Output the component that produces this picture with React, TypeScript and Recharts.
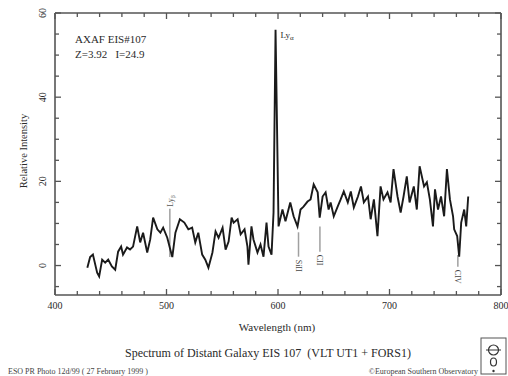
import { ComposedChart, Line, XAxis, YAxis, ReferenceLine, ReferenceDot } from 'recharts';

// spectrum: wavelength (nm) / relative intensity
const waves = [
  429, 431.5, 434, 437.8, 439.6, 442.3, 445, 447.7, 451, 454,
  456.6, 459.3, 461, 464.6, 467.3, 470, 473.7, 476.4, 479, 482.7,
  485.4, 488, 491.8, 494.5, 497, 500.7, 503.4, 505.2, 508, 512,
  516, 519.6, 523, 525.8, 528.5, 532, 534.8, 537.6, 541.2, 544,
  546.7, 550.3, 553, 555.7, 558.4, 560.2, 563.8, 566.5, 570, 572.6,
  573.5, 576.2, 578, 581.6, 584.3, 587, 589.7, 591.5, 594.2, 596,
  597.8, 600.5, 604, 606.7, 611, 614, 617.5, 620.2, 622.9, 626.5,
  629.2, 632, 635.6, 637.4, 640, 642.7, 645.4, 647.2, 650, 653.5,
  656.2, 659, 662.6, 665.3, 668, 671.7, 674.4, 677, 680.7, 683.1,
  686, 689.2, 692, 694.6, 698.2, 701, 703.6, 707.2, 710, 712.6,
  715.5, 718, 721.8, 724.5, 727, 731, 733.5, 736.2, 739, 740.8,
  743.5, 746.2, 749, 751.5, 754.2, 757, 758, 760.7, 762.5, 764.3,
  767, 768.8, 770.6,
];
const intensity = [
  -0.5, 2, 2.6, -1.7, -2.6, 1.4, 0.7, 1.4, -0.2, -1,
  3.3, 4.5, 2.6, 4.3, 3.8, 4.5, 9.3, 5.5, 7.8, 3.1,
  6.2, 11.4, 8.6, 7.8, 9, 6.6, 3.8, 2, 7.8, 11,
  10.2, 8.6, 9, 5.5, 7.8, 2.6, 1.4, -0.5, 3.1, 8.1,
  6.6, 9, 3.8, 5.7, 11.4, 10.2, 11, 7.4, 8.6, 4.5,
  0.2, 9.3, 6.2, 3.1, 5, 2.1, 10.2, 4.5, 2.6, 12.6,
  56, 9.3, 13.3, 10.5, 15, 11.7, 9.3, 13.3, 14, 15.2,
  15.7, 19.3, 17.4, 11.4, 16.4, 17.4, 13.3, 15, 11.7, 14,
  15.7, 17.6, 15, 17.6, 13.8, 16.4, 18.8, 15, 16.4, 11,
  15.7, 7, 18.8, 15.7, 17.4, 15, 22.9, 16.4, 12.6, 16.4,
  21.2, 15, 18.8, 13.3, 23.6, 18.8, 19.8, 15.7, 9.3, 18.1,
  13.3, 16.4, 11.7, 22.9, 15.7, 11.7, 8.6, 7, 2.1, 10.2,
  13.3, 9.3, 16.4,
];

const xTicks = [400, 420, 440, 460, 480, 500, 520, 540, 560, 580, 600, 620, 640, 660, 680, 700, 720, 740, 760, 780, 800];
const yTicks = [-5, 0, 5, 10, 15, 20, 25, 30, 35, 40, 45, 50, 55, 60];

// absorption / emission line markers
const lineNames = ['SiII', 'CII', 'CIV'];
const lineWaves = [618.4, 637.6, 761.3];
const lineTops = [7.9, 9.3, 2.5];
const lineBottoms = [2.1, 3.3, -0.3];

const data = waves.map((w, i) => ({ w, v: intensity[i] }));

const FONT = '"Liberation Serif", "DejaVu Serif", serif';
const AXIS = '#555';
const INK = '#2a2a2a';

const BottomTick = ({ x, y, payload }: any) => {
  const major = payload.value % 100 === 0;
  return (
    <g>
      <line x1={x} x2={x} y1={y} y2={y - (major ? 6 : 4)} stroke={AXIS} strokeWidth={1.3} />
      {major && (
        <text x={x} y={y + 14} textAnchor="middle" fontSize={10} fontFamily={FONT} fill={INK}>
          {payload.value}
        </text>
      )}
    </g>
  );
};

const TopTick = ({ x, y, payload }: any) => {
  const major = payload.value % 100 === 0;
  return <line x1={x} x2={x} y1={y} y2={y + (major ? 6 : 4)} stroke={AXIS} strokeWidth={1.3} />;
};

const LeftTick = ({ x, y, payload }: any) => {
  const major = payload.value % 20 === 0;
  return (
    <g>
      <line x1={x} x2={x + (major ? 6 : 4)} y1={y} y2={y} stroke={AXIS} strokeWidth={1.3} />
      {major && (
        <text
          x={x - 9}
          y={y}
          transform={`rotate(-90, ${x - 9}, ${y})`}
          textAnchor="middle"
          fontSize={10}
          fontFamily={FONT}
          fill={INK}
        >
          {payload.value}
        </text>
      )}
    </g>
  );
};

const RightTick = ({ x, y, payload }: any) => {
  const major = payload.value % 20 === 0;
  return <line x1={x} x2={x - (major ? 6 : 4)} y1={y} y2={y} stroke={AXIS} strokeWidth={1.3} />;
};

const LyaLabel = ({ cx, cy }: any) => (
  <text x={cx + 5} y={cy + 8} fontSize={9} fontFamily={FONT} fill={INK}>
    Ly<tspan fontSize={7} dy={2}>α</tspan>
  </text>
);

const LybLabel = ({ cx, cy }: any) => (
  <text
    x={cx + 3}
    y={cy - 2}
    transform={`rotate(-90, ${cx + 3}, ${cy - 2})`}
    fontSize={8}
    fontFamily={FONT}
    fill="#555"
  >
    Ly<tspan fontSize={6} dy={2}>β</tspan>
  </text>
);

const makeLineLabel = (name: string) => ({ cx, cy }: any) => (
  <text
    x={cx - 3}
    y={cy + 3}
    transform={`rotate(90, ${cx - 3}, ${cy + 3})`}
    fontSize={8}
    fontFamily={FONT}
    fill="#444"
  >
    {name}
  </text>
);

export default function App() {
  return (
    <div style={{ position: 'absolute', left: 0, top: 0, width: 508, height: 376, background: '#fff' }}>
      <ComposedChart width={508} height={376} data={data} margin={{ top: 12, right: 0, bottom: 0, left: 0 }}>
        <XAxis
          dataKey="w"
          type="number"
          domain={[400, 800]}
          ticks={xTicks}
          interval={0}
          height={81}
          tickSize={0}
          tickMargin={0}
          tickLine={false}
          tick={<BottomTick />}
          axisLine={{ stroke: AXIS, strokeWidth: 1.6 }}
        />
        <XAxis
          xAxisId="top"
          dataKey="w"
          orientation="top"
          type="number"
          domain={[400, 800]}
          ticks={xTicks}
          interval={0}
          height={1}
          tickSize={0}
          tickMargin={0}
          tickLine={false}
          tick={<TopTick />}
          axisLine={{ stroke: AXIS, strokeWidth: 1.6 }}
        />
        <YAxis
          type="number"
          domain={[-7, 60]}
          ticks={yTicks}
          interval={0}
          width={55}
          tickSize={0}
          tickMargin={0}
          tickLine={false}
          tick={<LeftTick />}
          axisLine={{ stroke: AXIS, strokeWidth: 1.6 }}
        />
        <YAxis
          yAxisId="right"
          orientation="right"
          type="number"
          domain={[-7, 60]}
          ticks={yTicks}
          interval={0}
          width={7}
          tickSize={0}
          tickMargin={0}
          tickLine={false}
          tick={<RightTick />}
          axisLine={{ stroke: AXIS, strokeWidth: 1.6 }}
        />

        {/* invisible copy so the top / right frame axes get drawn */}
        <Line
          xAxisId="top"
          yAxisId="right"
          dataKey="v"
          stroke="none"
          dot={false}
          activeDot={false}
          legendType="none"
          isAnimationActive={false}
        />

        {/* Ly beta marker */}
        <ReferenceLine segment={[{ x: 503, y: 13.5 }, { x: 503, y: 2 }]} stroke="#a0a0a0" strokeWidth={1.5} />
        <ReferenceDot x={503} y={13.5} r={0} shape={<LybLabel />} />

        {lineNames.map((name, i) => (
          <ReferenceLine
            key={`seg-${name}`}
            segment={[{ x: lineWaves[i], y: lineTops[i] }, { x: lineWaves[i], y: lineBottoms[i] }]}
            stroke="#a0a0a0"
            strokeWidth={1.5}
          />
        ))}
        {lineNames.map((name, i) => (
          <ReferenceDot key={`lbl-${name}`} x={lineWaves[i]} y={lineBottoms[i]} r={0} shape={makeLineLabel(name)} />
        ))}

        <Line
          type="linear"
          dataKey="v"
          stroke="#1a1a1a"
          strokeWidth={1.9}
          dot={false}
          isAnimationActive={false}
        />
        <ReferenceDot x={597.8} y={56} r={0} shape={<LyaLabel />} />
      </ComposedChart>

      <svg
        width={508}
        height={376}
        style={{ position: 'absolute', left: 0, top: 0, pointerEvents: 'none' }}
        fontFamily={FONT}
      >
        <text x={75} y={43} fontSize={11} fill={INK}>AXAF EIS#107</text>
        <text x={75} y={58} fontSize={11} fill={INK} style={{ whiteSpace: 'pre' }}>
          {'Z=3.92   I=24.9'}
        </text>
        <text x={27} y={151} transform="rotate(-90, 27, 151)" textAnchor="middle" fontSize={10.5} fill={INK}>
          Relative Intensity
        </text>
        <text x={277} y={331} textAnchor="middle" fontSize={11} fill={INK}>Wavelength (nm)</text>
        <text x={268} y={357} textAnchor="middle" fontSize={12} fill={INK} style={{ whiteSpace: 'pre' }}>
          {'Spectrum of Distant Galaxy EIS 107  (VLT UT1 + FORS1)'}
        </text>
        <text x={8} y={374} fontSize={8} fill="#444">ESO PR Photo 12d/99 ( 27 February 1999 )</text>
        <text x={478} y={374} textAnchor="end" fontSize={8} fill="#444">©European Southern Observatory</text>
        <rect x={481} y={338} width={25} height={36} fill="none" stroke="#555" strokeWidth={1} />
        <circle cx={493.5} cy={350} r={5} fill="none" stroke="#333" strokeWidth={1.2} />
        <line x1={486} x2={501} y1={350} y2={350} stroke="#333" strokeWidth={1} />
        <ellipse cx={493.5} cy={362} rx={3} ry={4} fill="none" stroke="#333" strokeWidth={1.2} />
        <circle cx={493.5} cy={371} r={1.2} fill="#333" />
      </svg>
    </div>
  );
}
